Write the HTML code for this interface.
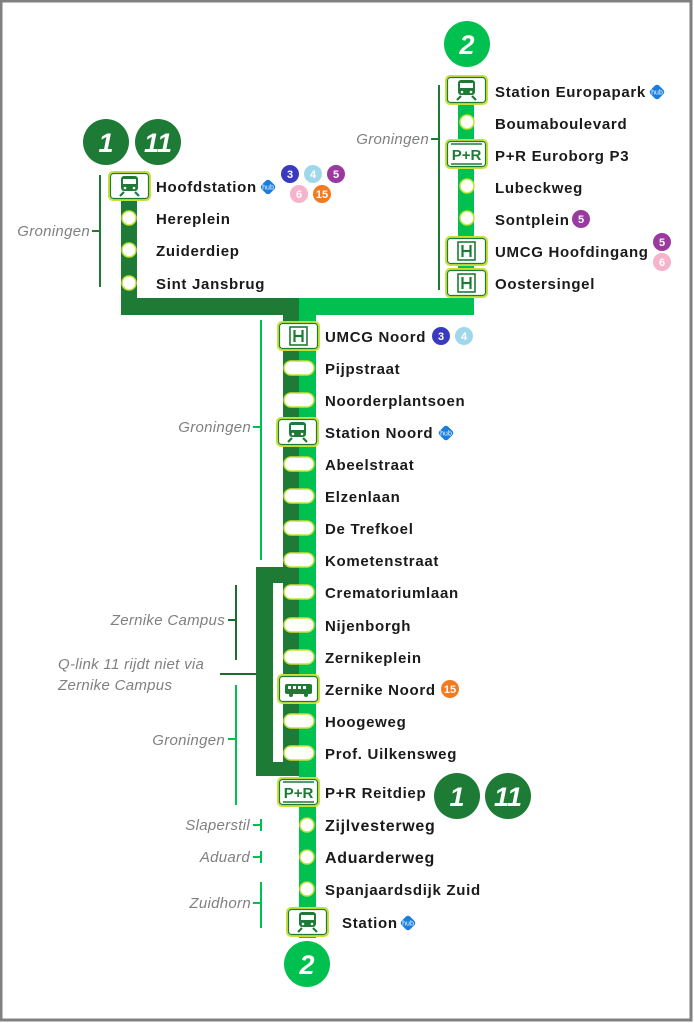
<!DOCTYPE html>
<html><head><meta charset="utf-8"><style>
html,body{margin:0;padding:0;background:#fff}
svg{display:block}
.t{font-family:"Liberation Sans",sans-serif;font-weight:bold;font-size:15px;fill:#1a1a1a;letter-spacing:0.7px}
.g{font-family:"Liberation Sans",sans-serif;font-style:italic;font-size:15px;fill:#808080;letter-spacing:0.3px}
.n{font-family:"Liberation Sans",sans-serif;font-weight:bold;font-style:italic;font-size:27px;fill:#fff}
.b{font-family:"Liberation Sans",sans-serif;font-weight:bold;font-size:11px;fill:#fff}
.h{font-family:"Liberation Sans",sans-serif;font-size:7px;fill:#fff}
</style></head><body>
<svg width="694" height="1023" viewBox="0 0 694 1023" xmlns="http://www.w3.org/2000/svg">
<defs>
<g id="box"><rect x="-20" y="-14" width="41" height="28" rx="4" fill="#fff" stroke="#c8e03a" stroke-width="2"/><rect x="-18.5" y="-12.5" width="38" height="25" rx="3" fill="none" stroke="#1e7b36" stroke-width="1.2"/></g>
<g id="train"><use href="#box"/><rect x="-8" y="-10" width="17" height="15" rx="3" fill="#1e7b36"/><rect x="-6" y="-7" width="13" height="5" fill="#fff"/><circle cx="-4" cy="2" r="1.3" fill="#fff"/><circle cx="5" cy="2" r="1.3" fill="#fff"/><path d="M-5 6 L-9 10 M6 6 L10 10" stroke="#1e7b36" stroke-width="2.2"/></g>
<g id="hosp"><use href="#box"/><rect x="-8" y="-9" width="17" height="18" fill="none" stroke="#1e7b36" stroke-width="1.6"/><path d="M-3.5 -6V6M4.5 -6V6M-3.5 0H4.5" stroke="#1e7b36" stroke-width="2.2"/></g>
<g id="pr"><use href="#box"/><path d="M-15 -10H16M-15 10H16" stroke="#1e7b36" stroke-width="1.6"/><text x="0.5" y="6" text-anchor="middle" font-family="Liberation Sans,sans-serif" font-size="15" fill="#1e7b36" font-weight="bold">P+R</text></g>
<g id="bus"><use href="#box"/><rect x="-13" y="-5" width="27" height="10" rx="2" fill="#1e7b36"/><path d="M-10 -3h3v3h-3zM-5 -3h3v3h-3zM0 -3h3v3h-3zM5 -3h3v3h-3z" fill="#fff"/><circle cx="-7" cy="6" r="2" fill="#1e7b36"/><circle cx="8" cy="6" r="2" fill="#1e7b36"/></g>
<g id="pill"><rect x="-15" y="-7" width="30" height="14" rx="7" fill="#fff" stroke="#c8e03a" stroke-width="1.5"/></g>
<g id="dot"><circle r="7" fill="#fff" stroke="#c8e03a" stroke-width="1.5"/></g>
<g id="hub"><rect x="-6" y="-6" width="12" height="12" rx="3" transform="rotate(45)" fill="#1a7de0"/><text class="h" x="0" y="2.5" text-anchor="middle">hub</text></g>
</defs>
<rect x="1" y="1" width="690" height="1019" fill="#fff" stroke="#808080" stroke-width="3"/>

<rect x="121" y="186" width="16" height="129" fill="#1e7b36"/>
<rect x="121" y="298" width="178" height="17" fill="#1e7b36"/>
<rect x="299" y="298" width="175" height="17" fill="#00c050"/>
<rect x="458" y="80" width="16" height="235" fill="#00c050"/>
<rect x="283" y="298" width="16" height="478" fill="#1e7b36"/>
<rect x="299" y="298" width="17" height="640" fill="#00c050"/>
<rect x="256" y="567" width="43" height="209" fill="#1e7b36"/>
<rect x="273" y="583" width="10" height="179" fill="#fff"/>

<path d="M100 175V287M92 231H100" stroke="#1e7b36" stroke-width="2" fill="none"/>
<text class="g" x="90" y="236" text-anchor="end">Groningen</text>
<path d="M439 85V290M431 139H439" stroke="#1e7b36" stroke-width="2" fill="none"/>
<text class="g" x="429" y="144" text-anchor="end">Groningen</text>
<path d="M261 320V560M253 427H261" stroke="#00c050" stroke-width="2" fill="none"/>
<text class="g" x="251" y="432" text-anchor="end">Groningen</text>
<path d="M236 585V660M228 620H236" stroke="#1e6b30" stroke-width="2" fill="none"/>
<text class="g" x="225" y="625" text-anchor="end">Zernike Campus</text>
<path d="M220 674H256" stroke="#1e6b30" stroke-width="2"/>
<text class="g" x="58" y="669">Q-link 11 rijdt niet via</text>
<text class="g" x="58" y="690">Zernike Campus</text>
<path d="M236 685V805M228 739H236" stroke="#00c050" stroke-width="2" fill="none"/>
<text class="g" x="225" y="745" text-anchor="end">Groningen</text>
<path d="M261 819V831M253 825H261" stroke="#00c050" stroke-width="2" fill="none"/>
<text class="g" x="250" y="830" text-anchor="end">Slaperstil</text>
<path d="M261 851V863M253 857H261" stroke="#00c050" stroke-width="2" fill="none"/>
<text class="g" x="250" y="862" text-anchor="end">Aduard</text>
<path d="M261 882V928M253 903H261" stroke="#00c050" stroke-width="2" fill="none"/>
<text class="g" x="251" y="908" text-anchor="end">Zuidhorn</text>

<circle cx="106" cy="142" r="23" fill="#1e7b36"/><text class="n" x="106" y="152" text-anchor="middle">1</text>
<circle cx="158" cy="142" r="23" fill="#1e7b36"/><text class="n" x="158" y="152" text-anchor="middle">11</text>
<circle cx="467" cy="44" r="23" fill="#00c050"/><text class="n" x="467" y="54" text-anchor="middle">2</text>
<circle cx="457" cy="796" r="23" fill="#1e7b36"/><text class="n" x="457" y="806" text-anchor="middle">1</text>
<circle cx="508" cy="796" r="23" fill="#1e7b36"/><text class="n" x="508" y="806" text-anchor="middle">11</text>
<circle cx="307" cy="964" r="23" fill="#00c050"/><text class="n" x="307" y="974" text-anchor="middle">2</text>

<use href="#train" x="129" y="186"/>
<use href="#dot" x="129" y="218"/><use href="#dot" x="129" y="250"/><use href="#dot" x="129" y="283"/>
<text class="t" x="156" y="192">Hoofdstation</text>
<use href="#hub" x="268" y="187"/>
<circle cx="290" cy="174" r="9" fill="#3a3abf"/><text class="b" x="290" y="178" text-anchor="middle">3</text>
<circle cx="313" cy="174" r="9" fill="#9fd8ea"/><text class="b" x="313" y="178" text-anchor="middle">4</text>
<circle cx="336" cy="174" r="9" fill="#9a3aa0"/><text class="b" x="336" y="178" text-anchor="middle">5</text>
<circle cx="299" cy="194" r="9" fill="#f6b3cc"/><text class="b" x="299" y="198" text-anchor="middle">6</text>
<circle cx="322" cy="194" r="9" fill="#f47a20"/><text class="b" x="322" y="198" text-anchor="middle">15</text>
<text class="t" x="156" y="224">Hereplein</text>
<text class="t" x="156" y="256">Zuiderdiep</text>
<text class="t" x="156" y="289">Sint Jansbrug</text>

<use href="#train" x="466" y="90"/>
<use href="#dot" x="467" y="122"/>
<use href="#pr" x="466" y="154"/>
<use href="#dot" x="467" y="186"/><use href="#dot" x="467" y="218"/>
<use href="#hosp" x="466" y="251"/><use href="#hosp" x="466" y="283"/>
<text class="t" x="495" y="97">Station Europapark</text>
<use href="#hub" x="657" y="92"/>
<text class="t" x="495" y="129">Boumaboulevard</text>
<text class="t" x="495" y="161">P+R Euroborg P3</text>
<text class="t" x="495" y="193">Lubeckweg</text>
<text class="t" x="495" y="225">Sontplein</text>
<circle cx="581" cy="219" r="9" fill="#9a3aa0"/><text class="b" x="581" y="223" text-anchor="middle">5</text>
<text class="t" x="495" y="257">UMCG Hoofdingang</text>
<circle cx="662" cy="242" r="9" fill="#9a3aa0"/><text class="b" x="662" y="246" text-anchor="middle">5</text>
<circle cx="662" cy="262" r="9" fill="#f6b3cc"/><text class="b" x="662" y="266" text-anchor="middle">6</text>
<text class="t" x="495" y="289">Oostersingel</text>

<use href="#hosp" x="298" y="336"/>
<use href="#pill" x="299" y="368"/><use href="#pill" x="299" y="400"/>
<use href="#train" x="297" y="432"/>
<use href="#pill" x="299" y="464"/><use href="#pill" x="299" y="496"/><use href="#pill" x="299" y="528"/><use href="#pill" x="299" y="560"/>
<use href="#pill" x="299" y="592"/><use href="#pill" x="299" y="625"/><use href="#pill" x="299" y="657"/>
<use href="#bus" x="298" y="689"/>
<use href="#pill" x="299" y="721"/><use href="#pill" x="299" y="753"/>
<use href="#pr" x="298" y="792"/>
<use href="#dot" x="307" y="825"/><use href="#dot" x="307" y="857"/><use href="#dot" x="307" y="889"/>
<use href="#train" x="307" y="922"/>

<text class="t" x="325" y="342">UMCG Noord</text>
<circle cx="441" cy="336" r="9" fill="#3a3abf"/><text class="b" x="441" y="340" text-anchor="middle">3</text>
<circle cx="464" cy="336" r="9" fill="#9fd8ea"/><text class="b" x="464" y="340" text-anchor="middle">4</text>
<text class="t" x="325" y="374">Pijpstraat</text>
<text class="t" x="325" y="406">Noorderplantsoen</text>
<text class="t" x="325" y="438">Station Noord</text>
<use href="#hub" x="446" y="433"/>
<text class="t" x="325" y="470">Abeelstraat</text>
<text class="t" x="325" y="502">Elzenlaan</text>
<text class="t" x="325" y="534">De Trefkoel</text>
<text class="t" x="325" y="566">Kometenstraat</text>
<text class="t" x="325" y="598">Crematoriumlaan</text>
<text class="t" x="325" y="631">Nijenborgh</text>
<text class="t" x="325" y="663">Zernikeplein</text>
<text class="t" x="325" y="695">Zernike Noord</text>
<circle cx="450" cy="689" r="9" fill="#f47a20"/><text class="b" x="450" y="693" text-anchor="middle">15</text>
<text class="t" x="325" y="727">Hoogeweg</text>
<text class="t" x="325" y="759">Prof. Uilkensweg</text>
<text class="t" x="325" y="798">P+R Reitdiep</text>
<text class="t" x="325" y="831" style="font-size:16px">Zijlvesterweg</text>
<text class="t" x="325" y="863" style="font-size:16px">Aduarderweg</text>
<text class="t" x="325" y="895">Spanjaardsdijk Zuid</text>
<text class="t" x="342" y="928">Station</text>
<use href="#hub" x="408" y="923"/>
</svg>
</body></html>
